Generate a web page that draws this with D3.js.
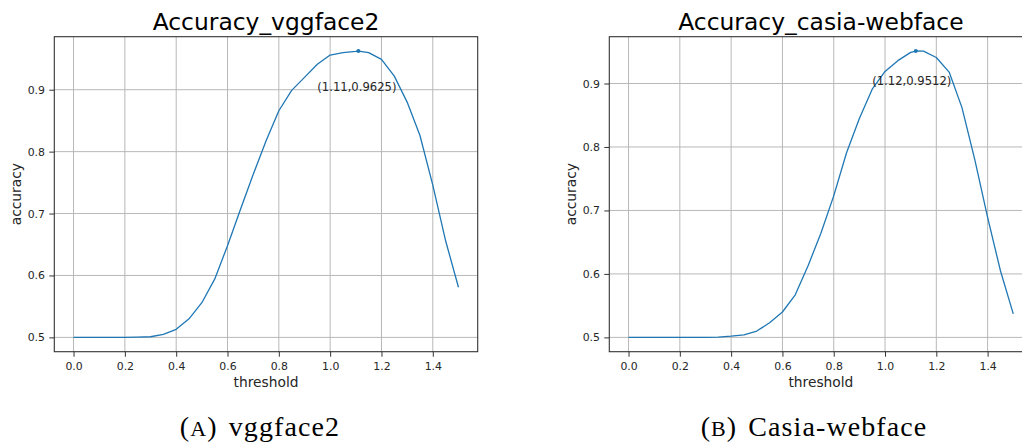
<!DOCTYPE html>
<html>
<head>
<meta charset="utf-8">
<script src="https://cdn.jsdelivr.net/npm/d3@7"></script>
<style>
  html, body { margin: 0; padding: 0; background: #ffffff; }
  svg { display: block; }
</style>
</head>
<body>
<svg id="chart" width="1022" height="446"></svg>
<script>
// ---------------- data ----------------
const thresholds = [0.00, 0.05, 0.10, 0.15, 0.20, 0.25, 0.30, 0.35, 0.40, 0.45,
                    0.50, 0.55, 0.60, 0.65, 0.70, 0.75, 0.80, 0.85, 0.90, 0.95,
                    1.00, 1.05, 1.10, 1.15, 1.20, 1.25, 1.30, 1.35, 1.40, 1.45, 1.50];

const accVggface2 = [0.500, 0.500, 0.500, 0.500, 0.500, 0.5005, 0.501, 0.505, 0.513, 0.530,
                     0.556, 0.594, 0.648, 0.706, 0.763, 0.817, 0.866, 0.899, 0.920, 0.941,
                     0.956, 0.960, 0.962, 0.960, 0.949, 0.922, 0.880, 0.826, 0.746, 0.656, 0.581];

const accCasia = [0.500, 0.500, 0.500, 0.500, 0.500, 0.500, 0.500, 0.5005, 0.502, 0.504,
                  0.510, 0.523, 0.540, 0.567, 0.613, 0.664, 0.723, 0.791, 0.845, 0.891,
                  0.919, 0.936, 0.949, 0.951, 0.941, 0.918, 0.862, 0.780, 0.689, 0.605, 0.537];

const bestPoints = [ {x: 1.11, y: 0.9625}, {x: 1.12, y: 0.9512} ];
const annotLabels = ["(1.11,0.9625)", "(1.12,0.9512)"];
const titles = ["Accuracy_vggface2", "Accuracy_casia-webface"];
const captionLetters = ["A", "B"];
const captionNames = ["vggface2", "Casia-webface"];
const xTickValues = [0.0, 0.2, 0.4, 0.6, 0.8, 1.0, 1.2, 1.4];
const yTickValues = [0.5, 0.6, 0.7, 0.8, 0.9];
const xLabel = "threshold";
const yLabel = "accuracy";

// ---------------- layout ----------------
const panels = [
  { left: 54.3, right: 477.7, top: 36.7, bottom: 351.7, series: accVggface2, captionX: 260 },
  { left: 609.3, right: 1032.5, top: 36.7, bottom: 351.7, series: accCasia, captionX: 814 }
];

const svg = d3.select("#chart");
const FONT = "'DejaVu Sans', sans-serif";
const LINE = "#1f77b4";
const GRID = "#b8b8b8";
const TEXT = "#262626";

panels.forEach((p, i) => {
  const vals = p.series.concat([bestPoints[i].y]);
  const xmin = d3.min(thresholds), xmax = d3.max(thresholds);
  const ymin = d3.min(vals), ymax = d3.max(vals);
  const xm = (xmax - xmin) * 0.05, ym = (ymax - ymin) * 0.05;

  const x = d3.scaleLinear().domain([xmin - xm, xmax + xm]).range([p.left, p.right]);
  const y = d3.scaleLinear().domain([ymin - ym, ymax + ym]).range([p.bottom, p.top]);

  const g = svg.append("g");

  // grid
  g.append("g").selectAll("line").data(xTickValues).join("line")
    .attr("x1", d => x(d)).attr("x2", d => x(d))
    .attr("y1", p.top).attr("y2", p.bottom)
    .attr("stroke", GRID).attr("stroke-width", 1);
  g.append("g").selectAll("line").data(yTickValues).join("line")
    .attr("x1", p.left).attr("x2", p.right)
    .attr("y1", d => y(d)).attr("y2", d => y(d))
    .attr("stroke", GRID).attr("stroke-width", 1);

  // data line (with best point inserted in order)
  const pts = thresholds.map((t, k) => ({ x: t, y: p.series[k] }));
  pts.push(bestPoints[i]);
  pts.sort((a, b) => a.x - b.x);
  const line = d3.line().x(d => x(d.x)).y(d => y(d.y));
  g.append("path").datum(pts)
    .attr("d", line)
    .attr("fill", "none")
    .attr("stroke", LINE)
    .attr("stroke-width", 1.3)
    .attr("stroke-linejoin", "round");

  // best point marker
  g.append("circle")
    .attr("cx", x(bestPoints[i].x)).attr("cy", y(bestPoints[i].y))
    .attr("r", 2).attr("fill", LINE);

  // annotation
  g.append("text")
    .attr("x", x(0.95)).attr("y", y(0.9) + 1)
    .attr("font-family", FONT).attr("font-size", 11.6)
    .attr("fill", TEXT)
    .text(annotLabels[i]);

  // frame
  g.append("rect")
    .attr("x", p.left).attr("y", p.top)
    .attr("width", p.right - p.left).attr("height", p.bottom - p.top)
    .attr("fill", "none").attr("stroke", "#333").attr("stroke-width", 1.1);

  // axes
  const xAxis = d3.axisBottom(x).tickValues(xTickValues).tickFormat(d3.format(".1f"))
    .tickSizeInner(5).tickSizeOuter(0).tickPadding(5.4);
  const gx = g.append("g").attr("transform", `translate(0,${p.bottom})`).call(xAxis);
  const yAxis = d3.axisLeft(y).tickValues(yTickValues).tickFormat(d3.format(".1f"))
    .tickSizeInner(5).tickSizeOuter(0).tickPadding(4.3);
  const gy = g.append("g").attr("transform", `translate(${p.left},0)`).call(yAxis);
  [gx, gy].forEach(a => {
    a.select(".domain").remove();
    a.selectAll(".tick line").attr("stroke", "#333").attr("stroke-width", 1);
    a.selectAll(".tick text").attr("font-family", FONT).attr("font-size", 10.9).attr("fill", TEXT);
  });

  // axis labels
  g.append("text")
    .attr("x", (p.left + p.right) / 2).attr("y", 387)
    .attr("text-anchor", "middle")
    .attr("font-family", FONT).attr("font-size", 13.8).attr("fill", TEXT)
    .text(xLabel);
  g.append("text")
    .attr("transform", `translate(${p.left - 33.8},${(p.top + p.bottom) / 2}) rotate(-90)`)
    .attr("text-anchor", "middle")
    .attr("font-family", FONT).attr("font-size", 13.8).attr("fill", TEXT)
    .text(yLabel);

  // title
  g.append("text")
    .attr("x", (p.left + p.right) / 2).attr("y", 29.5)
    .attr("text-anchor", "middle")
    .attr("font-family", FONT).attr("font-size", 23.4).attr("fill", "#000")
    .text(titles[i]);

  // caption
  const cap = g.append("text")
    .attr("x", p.captionX).attr("y", 436)
    .attr("text-anchor", "middle")
    .attr("font-family", "'Liberation Serif', 'DejaVu Serif', serif")
    .attr("font-size", 28).attr("letter-spacing", 1.1).attr("fill", "#000");
  cap.append("tspan").text("(");
  cap.append("tspan").attr("font-size", 22).text(captionLetters[i]);
  cap.append("tspan").text(")");
  cap.append("tspan").attr("dx", 11).text(captionNames[i]);
});
</script>
</body>
</html>
